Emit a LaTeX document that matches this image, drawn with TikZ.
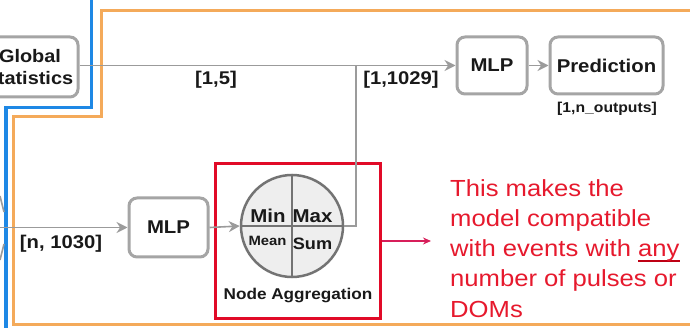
\documentclass[tikz,border=0pt]{standalone}
\usepackage{fontspec}
\setmainfont[FakeStretch=1.1]{Liberation Sans}
\usetikzlibrary{arrows.meta}
\definecolor{boxgray}{RGB}{165,165,165}
\definecolor{conngray}{RGB}{155,155,155}
\definecolor{circgray}{RGB}{115,115,115}
\definecolor{circfill}{RGB}{238,238,238}
\definecolor{blueline}{RGB}{30,136,229}
\definecolor{orangeline}{RGB}{244,170,90}
\definecolor{redbox}{RGB}{225,10,40}
\definecolor{redtxt}{RGB}{230,25,45}
\definecolor{uline}{RGB}{190,0,20}
\definecolor{pinkarrow}{RGB}{215,30,90}
\definecolor{txt}{RGB}{25,25,25}
\newcommand\myul[1]{\setbox0\hbox{#1}\rlap{\color{uline}\rule[-5pt]{\wd0}{2pt}}\box0}
\begin{document}
\begin{tikzpicture}[x=1pt,y=-1pt,
  gbox/.style={draw=boxgray, line width=3pt, rounded corners=8pt, fill=white,
    minimum height=57pt, inner sep=0pt, text=txt,
    font=\fontsize{18.5}{22}\selectfont\bfseries},
  conn/.style={draw=conngray, line width=1.6pt, -{Stealth[length=11pt,width=11pt]}},
  gline/.style={draw=conngray, line width=1.6pt},
  lbl/.style={inner sep=0pt, anchor=base, text=txt, font=\fontsize{18.4}{20}\selectfont\bfseries},
  lblsmall/.style={lbl, font=\fontsize{14.3}{16}\selectfont\bfseries},
]
\useasboundingbox (0,0) rectangle (690,328);
% frame lines
\draw[draw=orangeline, line width=3pt] (690,11) -- (101,11) -- (101,116.5) -- (13.5,116.5) -- (13.5,324.5) -- (690,324.5);
\draw[draw=blueline, line width=3.5pt] (91.5,0) -- (91.5,107.5) -- (6,107.5) -- (6,328);
% nodes
\node[gbox, minimum width=96pt, minimum height=60pt, align=center,
  font=\fontsize{18.1}{22}\selectfont\bfseries] (gs) at (30,67) {Global\\statistics};
\node[gbox, minimum width=70pt] (mlp1) at (492,65.5) {MLP};
\node[gbox, minimum width=113pt] (pred) at (606.5,65.5) {Prediction};
\node[gbox, minimum width=79pt, minimum height=59pt] (mlp2) at (168.5,227.5) {MLP};
\node[draw=redbox, line width=3pt, minimum width=165pt, minimum height=154pt, inner sep=0pt] (agg) at (297.5,241) {};
\node[circle, draw=circgray, fill=circfill, line width=2.5pt, minimum size=102pt, inner sep=0pt] (circ) at (292,226) {};
\draw[draw=circgray, line width=2.5pt] (circ.north) -- (circ.south);
\draw[draw=circgray, line width=2.5pt] (circ.west) -- (circ.east);
\node[lbl, font=\fontsize{18.6}{20}\selectfont\bfseries] (tmin) at (268,223) {Min};
\node[lbl, font=\fontsize{18.6}{20}\selectfont\bfseries] (tmax) at (312.5,223) {Max};
\node[lbl, font=\fontsize{13.5}{15}\selectfont\bfseries] (tmean) at (267.5,245.7) {Mean};
\node[lbl, font=\fontsize{16.5}{18}\selectfont\bfseries] (tsum) at (312.5,250) {Sum};
\node[lbl, font=\fontsize{15.6}{18}\selectfont\bfseries] (tagg) at (298,300) {Node Aggregation};
% labels
\node[lbl] (l15) at (216,85) {[1,5]};
\node[lbl] (l1029) at (401,85) {[1,1029]};
\node[lblsmall] (lout) at (607,113) {[1,n\_outputs]};
\node[lbl] (ln) at (61,249) {[n, 1030]};
% connectors
\coordinate (lin) at (0,227.5);
\coordinate (j) at (356,0 |- mlp1.west);
\coordinate (s1a) at (0,196);
\coordinate (s1b) at (4,212);
\coordinate (s2a) at (0,260);
\coordinate (s2b) at (4,244);
\draw[gline] (s1a) -- (s1b);
\draw[gline] (s2a) -- (s2b);
\draw[conn] (lin) -- (mlp2.west);
\draw[conn] (mlp2.east) -- (circ.west);
\draw[conn] (gs.east |- mlp1.west) -- (mlp1.west);
\draw[gline] (circ.east) -| (j);
\draw[conn] (mlp1.east) -- (pred.west);
\coordinate (ra) at (431,241);
\draw[draw=pinkarrow, line width=1.4pt, -{Stealth[length=8pt,width=7pt]}] (agg.east) -- (ra);
% note
\node[anchor=north west, inner sep=0pt, align=left, text=redtxt,
  font=\fontsize{23.3}{30.25}\selectfont] (note) at (450,179)
  {This makes the\\model compatible\\with events with \myul{any}\\number of pulses or\\DOMs};
\end{tikzpicture}
\end{document}
